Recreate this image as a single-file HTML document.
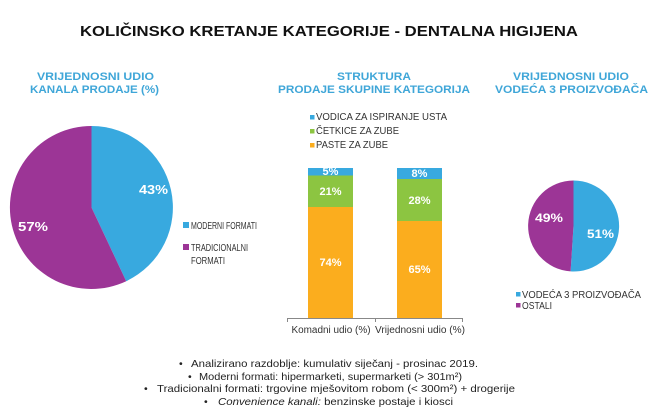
<!DOCTYPE html>
<html><head><meta charset="utf-8"><style>
html,body{margin:0;padding:0;background:#fff;}
svg{display:block;}
text{font-family:"Liberation Sans",sans-serif;}
</style></head><body>
<svg width="659" height="420" viewBox="0 0 659 420" xmlns="http://www.w3.org/2000/svg">
<rect width="659" height="420" fill="#fff"/>
<!-- title -->
<text x="80" y="36" font-size="14.5" font-weight="bold" fill="#111" textLength="498" lengthAdjust="spacingAndGlyphs">KOLIČINSKO KRETANJE KATEGORIJE - DENTALNA HIGIJENA</text>
<!-- subtitles -->
<g font-size="11" font-weight="bold" fill="#3fa6d8" text-anchor="middle">
<text x="95.5" y="80" textLength="117" lengthAdjust="spacingAndGlyphs">VRIJEDNOSNI UDIO</text>
<text x="94.5" y="93" textLength="129" lengthAdjust="spacingAndGlyphs">KANALA PRODAJE (%)</text>
<text x="374" y="80" textLength="74" lengthAdjust="spacingAndGlyphs">STRUKTURA</text>
<text x="374" y="93" textLength="192" lengthAdjust="spacingAndGlyphs">PRODAJE SKUPINE KATEGORIJA</text>
<text x="571" y="80" textLength="116" lengthAdjust="spacingAndGlyphs">VRIJEDNOSNI UDIO</text>
<text x="571.5" y="93" textLength="153" lengthAdjust="spacingAndGlyphs">VODEĆA 3 PROIZVOĐAČA</text>
</g>
<!-- left pie -->
<path d="M91.5,207.5 L91.5,126 A81.5,81.5 0 0 1 126.2,281.2 Z" fill="#38a9df"/>
<path d="M91.5,207.5 L126.2,281.2 A81.5,81.5 0 1 1 91.5,126 Z" fill="#9c3596"/>
<g font-size="13" font-weight="bold" fill="#fff">
<text x="139" y="194" textLength="29" lengthAdjust="spacingAndGlyphs">43%</text>
<text x="18" y="231" textLength="30" lengthAdjust="spacingAndGlyphs">57%</text>
</g>
<!-- left legend -->
<rect x="183" y="222" width="6" height="6" fill="#38a9df"/>
<rect x="183" y="244" width="6" height="6" fill="#9c3596"/>
<g font-size="10" fill="#333">
<text x="191" y="229" textLength="66" lengthAdjust="spacingAndGlyphs">MODERNI FORMATI</text>
<text x="191" y="251" textLength="57" lengthAdjust="spacingAndGlyphs">TRADICIONALNI</text>
<text x="191" y="264" textLength="34" lengthAdjust="spacingAndGlyphs">FORMATI</text>
</g>
<!-- bar legend -->
<rect x="310" y="115" width="4.5" height="4.5" fill="#38a9df"/>
<rect x="310" y="129" width="4.5" height="4.5" fill="#8cc541"/>
<rect x="310" y="143" width="4.5" height="4.5" fill="#fbad1e"/>
<g font-size="10" fill="#333">
<text x="316" y="120" textLength="131" lengthAdjust="spacingAndGlyphs">VODICA ZA ISPIRANJE USTA</text>
<text x="316" y="134" textLength="83" lengthAdjust="spacingAndGlyphs">ČETKICE ZA ZUBE</text>
<text x="316" y="148" textLength="72" lengthAdjust="spacingAndGlyphs">PASTE ZA ZUBE</text>
</g>
<!-- bars -->
<rect x="308" y="168" width="45" height="7.5" fill="#38a9df"/>
<rect x="308" y="175.5" width="45" height="31.5" fill="#8cc541"/>
<rect x="308" y="207" width="45" height="111" fill="#fbad1e"/>
<rect x="397" y="168" width="45" height="11" fill="#38a9df"/>
<rect x="397" y="179" width="45" height="42" fill="#8cc541"/>
<rect x="397" y="221" width="45" height="97" fill="#fbad1e"/>
<g font-size="11" font-weight="bold" fill="#fff" text-anchor="middle">
<text x="330.5" y="175">5%</text>
<text x="330.5" y="195">21%</text>
<text x="330.5" y="266">74%</text>
<text x="419.5" y="177">8%</text>
<text x="419.5" y="204">28%</text>
<text x="419.5" y="273">65%</text>
</g>
<!-- axis -->
<g stroke="#888" stroke-width="1">
<line x1="287" y1="318.5" x2="463" y2="318.5"/>
<line x1="287.5" y1="318" x2="287.5" y2="322"/>
<line x1="375.5" y1="318" x2="375.5" y2="322"/>
<line x1="462.5" y1="318" x2="462.5" y2="322"/>
</g>
<g font-size="10" fill="#333" text-anchor="middle">
<text x="331" y="333" textLength="79" lengthAdjust="spacingAndGlyphs">Komadni udio (%)</text>
<text x="420" y="333" textLength="90" lengthAdjust="spacingAndGlyphs">Vrijednosni udio (%)</text>
</g>
<!-- right pie -->
<path d="M573.5,226 L573.5,180.5 A45.5,45.5 0 1 1 570.6,271.4 Z" fill="#38a9df"/>
<path d="M573.5,226 L570.6,271.4 A45.5,45.5 0 0 1 573.5,180.5 Z" fill="#9c3596"/>
<g font-size="11.5" font-weight="bold" fill="#fff">
<text x="535" y="222" textLength="28" lengthAdjust="spacingAndGlyphs">49%</text>
<text x="587" y="238" textLength="27" lengthAdjust="spacingAndGlyphs">51%</text>
</g>
<rect x="516" y="292" width="4.5" height="4.5" fill="#38a9df"/>
<rect x="516" y="303" width="4.5" height="4.5" fill="#9c3596"/>
<g font-size="10" fill="#333">
<text x="522" y="298" textLength="119" lengthAdjust="spacingAndGlyphs">VODEĆA 3 PROIZVOĐAČA</text>
<text x="522" y="309" textLength="30" lengthAdjust="spacingAndGlyphs">OSTALI</text>
</g>
<!-- footnotes -->
<g font-size="10.5" fill="#222">
<text x="179" y="367">•</text>
<text x="191" y="367" textLength="287" lengthAdjust="spacingAndGlyphs">Analizirano razdoblje: kumulativ siječanj - prosinac 2019.</text>
<text x="188" y="380">•</text>
<text x="199" y="380" textLength="263" lengthAdjust="spacingAndGlyphs">Moderni formati: hipermarketi, supermarketi (&gt; 301m²)</text>
<text x="144" y="392">•</text>
<text x="157" y="392" textLength="358" lengthAdjust="spacingAndGlyphs">Tradicionalni formati: trgovine mješovitom robom (&lt; 300m²) + drogerije</text>
<text x="204" y="405">•</text>
<text x="218" y="405" textLength="235" lengthAdjust="spacingAndGlyphs"><tspan font-style="italic">Convenience kanali:</tspan> benzinske postaje i kiosci</text>
</g>
</svg>
</body></html>
